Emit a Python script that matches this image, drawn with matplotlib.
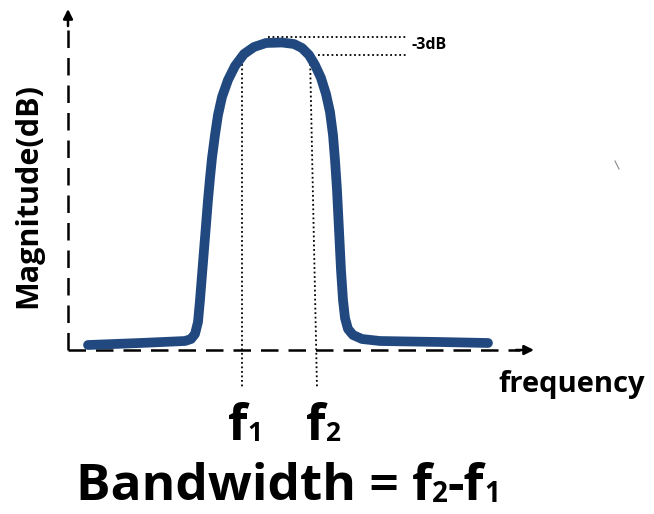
import matplotlib
matplotlib.use("Agg")
import matplotlib.pyplot as plt

# Band-pass response sketch, traced in canvas pixel units (x right, y down)
curve_x = [88, 140, 185, 191, 195, 198, 200, 202, 204, 206, 208, 210, 212, 215,
           218, 222, 228, 235, 244, 254, 266, 282, 294, 302, 309, 315, 321, 326,
           330, 333, 335, 337, 339, 341, 343, 345, 348, 353, 362, 380, 440, 488]
curve_y = [345, 343, 341, 339, 334, 322, 300, 275, 250, 225, 200, 178, 158, 135,
           115, 97, 80, 66, 54, 47, 43, 42.5, 44, 48, 55, 65, 78, 94,
           112, 135, 160, 190, 230, 270, 300, 318, 329, 335, 339, 341, 342, 343]

# Cut-off frequency markers and reference levels
f1_x = [242, 242]
f1_y = [55, 388]
f2_x = [310, 317]
f2_y = [55, 388]
peak_level_x = [268, 407]
peak_level_y = [37, 37]
cut_level_x = [318, 407]
cut_level_y = [55, 55]

FONT = ["Open Sans", "DejaVu Sans"]
BLUE = "#22497f"

fig = plt.figure(figsize=(6.54, 5.14), dpi=100)
ax = fig.add_axes([0, 0, 1, 1])
ax.set_xlim(0, 654)
ax.set_ylim(514, 0)
ax.axis("off")
renderer = fig.canvas.get_renderer()


def text_run(x, y, pieces, center=True):
    """Lay out bold text pieces (text, size, baseline drop) left to right."""
    arts = []
    cur = x
    for s, size, drop in pieces:
        t = ax.text(cur, y + drop, s, fontsize=size, fontweight="bold",
                    family=FONT, ha="left", va="baseline")
        ext = t.get_window_extent(renderer)
        x0 = ax.transData.inverted().transform((ext.x0, ext.y0))[0]
        x1 = ax.transData.inverted().transform((ext.x1, ext.y0))[0]
        cur += x1 - x0
        arts.append(t)
    if center:
        shift = (cur - x) / 2
        for t in arts:
            px, py = t.get_position()
            t.set_position((px - shift, py))
    return arts


# Dashed axes with arrow heads
dash = (0, (7, 4))
ax.plot([68, 68], [350, 22], color="black", lw=1.8, linestyle=dash)
ax.plot([68, 520], [350, 350], color="black", lw=1.8, linestyle=dash)
ax.annotate("", xy=(68, 9), xytext=(68, 26),
            arrowprops=dict(arrowstyle="-|>", color="black", lw=1.8,
                            mutation_scale=14, shrinkA=0, shrinkB=0))
ax.annotate("", xy=(534, 350), xytext=(516, 350),
            arrowprops=dict(arrowstyle="-|>", color="black", lw=1.8,
                            mutation_scale=14, shrinkA=0, shrinkB=0))

# Dotted guides
dot = (0, (1, 1.5))
for xs, ys in [(f1_x, f1_y), (f2_x, f2_y), (peak_level_x, peak_level_y),
               (cut_level_x, cut_level_y)]:
    ax.plot(xs, ys, color="black", lw=1.3, linestyle=dot)

# Response curve
ax.plot(curve_x, curve_y, color=BLUE, lw=7, solid_capstyle="round",
        solid_joinstyle="round")

# Small stray stroke
ax.plot([615, 619], [161, 169], color="#888888", lw=0.8)

# Labels
ax.text(411, 45, "-3dB", fontsize=11.5, fontweight="bold", family=FONT,
        va="center", ha="left")
ax.text(28, 195, "Magnitude(dB)", fontsize=22, fontweight="bold", family=FONT,
        rotation=90, va="center", ha="center")
ax.text(572, 392, "frequency", fontsize=21, fontweight="bold", family=FONT,
        va="baseline", ha="center")
text_run(245, 440, [("f", 36, 0), ("1", 19, 1)])
text_run(323, 440, [("f", 36, 0), ("2", 19, 1)])
text_run(288, 500, [("Bandwidth = f", 37, 0), ("2", 20, 2), ("-f", 37, 0),
                    ("1", 20, 2)])

fig.savefig("out.png", dpi=100, facecolor="white")
